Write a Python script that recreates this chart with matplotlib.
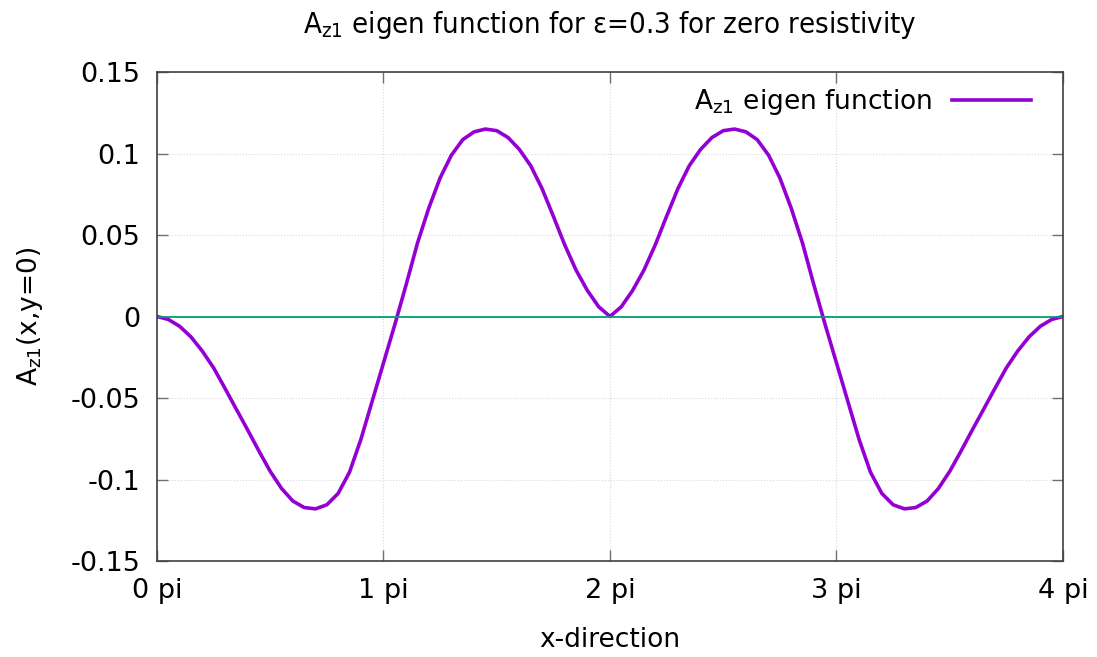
import matplotlib.pyplot as plt
import numpy as np

# x in units of pi
x_pi = [0.00, 0.05, 0.10, 0.15, 0.20, 0.25, 0.30, 0.35, 0.40, 0.45,
        0.50, 0.55, 0.60, 0.65, 0.70, 0.75, 0.80, 0.85, 0.90, 0.95,
        1.00, 1.05, 1.10, 1.15, 1.20, 1.25, 1.30, 1.35, 1.40, 1.45,
        1.50, 1.55, 1.60, 1.65, 1.70, 1.75, 1.80, 1.85, 1.90, 1.95,
        2.00, 2.05, 2.10, 2.15, 2.20, 2.25, 2.30, 2.35, 2.40, 2.45,
        2.50, 2.55, 2.60, 2.65, 2.70, 2.75, 2.80, 2.85, 2.90, 2.95,
        3.00, 3.05, 3.10, 3.15, 3.20, 3.25, 3.30, 3.35, 3.40, 3.45,
        3.50, 3.55, 3.60, 3.65, 3.70, 3.75, 3.80, 3.85, 3.90, 3.95,
        4.00]
az1 = [0.0, -0.0018, -0.0060, -0.0125, -0.0212, -0.0315, -0.0440, -0.0568, -0.0695, -0.0825,
       -0.0950, -0.1055, -0.1132, -0.1172, -0.1180, -0.1155, -0.1085, -0.0955, -0.0755, -0.0520,
       -0.0285, -0.0050, 0.0195, 0.0450, 0.0665, 0.0850, 0.0990, 0.1085, 0.1133, 0.1150,
       0.1140, 0.1098, 0.1025, 0.0925, 0.0785, 0.0615, 0.0440, 0.0285, 0.0160, 0.0060,
       0.0, 0.0060, 0.0160, 0.0285, 0.0440, 0.0615, 0.0785, 0.0925, 0.1025, 0.1098,
       0.1140, 0.1150, 0.1133, 0.1085, 0.0990, 0.0850, 0.0665, 0.0450, 0.0195, -0.0050,
       -0.0285, -0.0520, -0.0755, -0.0955, -0.1085, -0.1155, -0.1180, -0.1172, -0.1132, -0.1055,
       -0.0950, -0.0825, -0.0695, -0.0568, -0.0440, -0.0315, -0.0212, -0.0125, -0.0060, -0.0018,
       0.0]
x_ticks = [0, 1, 2, 3, 4]
x_labels = ['0 pi', '1 pi', '2 pi', '3 pi', '4 pi']
y_ticks = [-0.15, -0.1, -0.05, 0, 0.05, 0.1, 0.15]
y_labels = ['-0.15', '-0.1', '-0.05', '0', '0.05', '0.1', '0.15']

fig = plt.figure(figsize=(10.97, 6.57), dpi=100)
ax = fig.add_axes([0.1431, 0.1461, 0.8259, 0.7443])

ax.plot(x_pi, az1, color='#9400d3', lw=2.6, solid_joinstyle='round',
        label=r'A$_{\mathregular{z1}}$ eigen function')
ax.axhline(0, color='#009e73', lw=1.3)

ax.set_xlim(0, 4)
ax.set_ylim(-0.15, 0.15)
ax.set_xticks(x_ticks)
ax.set_xticklabels(x_labels)
ax.set_yticks(y_ticks)
ax.set_yticklabels(y_labels)
ax.tick_params(direction='in', length=8, width=1, color='#707070', labelsize=19.5,
               top=True, right=True, pad=12)
ax.grid(True, color='#d8d8d8', linestyle=':', lw=0.8)
for s in ax.spines.values():
    s.set_color('#404040')
    s.set_linewidth(1.2)

ax.set_xlabel('x-direction', fontsize=19, labelpad=17)
ax.set_ylabel(r'A$_{\mathregular{z1}}$(x,y=0)', fontsize=19, labelpad=18)
ax.set_title(r'A$_{\mathregular{z1}}$ eigen function for ε=0.3 for zero resistivity',
             fontsize=21, fontstretch='condensed', pad=28)

ax.legend(loc='upper right', frameon=False, fontsize=19, markerfirst=False,
          handlelength=3.0, handletextpad=0.75, borderaxespad=0.0,
          bbox_to_anchor=(0.976, 0.99))

plt.savefig('out.png', dpi=100)
